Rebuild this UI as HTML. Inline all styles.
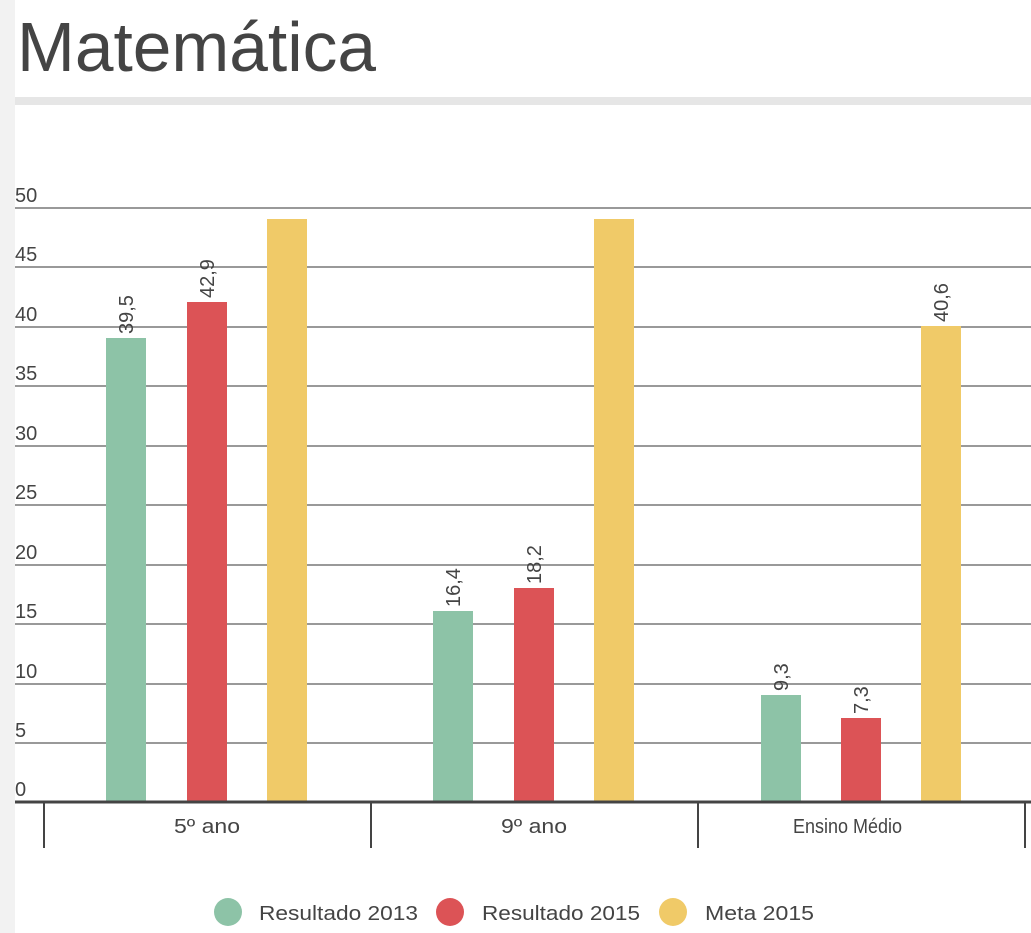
<!DOCTYPE html>
<html><head><meta charset="utf-8"><style>
html,body{margin:0;padding:0;width:1031px;height:933px;overflow:hidden;background:#fff}
svg{display:block}
text{font-family:"Liberation Sans",sans-serif;fill:#444}
</style></head><body>
<svg width="1031" height="933" viewBox="0 0 1031 933">
<rect x="0" y="0" width="15" height="933" fill="#f2f2f2"/>
<text x="17" y="71" font-size="70" textLength="359" lengthAdjust="spacingAndGlyphs">Matemática</text>
<rect x="15" y="97" width="1016" height="8" fill="#e6e6e6"/>
<g stroke="#999" stroke-width="2">
<line x1="15" x2="1031" y1="208" y2="208"/>
<line x1="15" x2="1031" y1="267" y2="267"/>
<line x1="15" x2="1031" y1="327" y2="327"/>
<line x1="15" x2="1031" y1="386" y2="386"/>
<line x1="15" x2="1031" y1="446" y2="446"/>
<line x1="15" x2="1031" y1="505" y2="505"/>
<line x1="15" x2="1031" y1="565" y2="565"/>
<line x1="15" x2="1031" y1="624" y2="624"/>
<line x1="15" x2="1031" y1="684" y2="684"/>
<line x1="15" x2="1031" y1="743" y2="743"/>
</g>
<g font-size="20">
<text x="15" y="202">50</text><text x="15" y="261">45</text><text x="15" y="321">40</text>
<text x="15" y="380">35</text><text x="15" y="440">30</text><text x="15" y="499">25</text>
<text x="15" y="559">20</text><text x="15" y="618">15</text><text x="15" y="678">10</text>
<text x="15" y="737">5</text><text x="15" y="796">0</text>
</g>
<g>
<rect x="106" y="338" width="40" height="464" fill="#8dc3a7"/>
<rect x="187" y="302" width="40" height="500" fill="#dc5356"/>
<rect x="267" y="219" width="40" height="583" fill="#f0ca68"/>
<rect x="433" y="611" width="40" height="191" fill="#8dc3a7"/>
<rect x="514" y="588" width="40" height="214" fill="#dc5356"/>
<rect x="594" y="219" width="40" height="583" fill="#f0ca68"/>
<rect x="761" y="695" width="40" height="107" fill="#8dc3a7"/>
<rect x="841" y="718" width="40" height="84" fill="#dc5356"/>
<rect x="921" y="326" width="40" height="476" fill="#f0ca68"/>
</g>
<g font-size="20">
<text transform="translate(133,334) rotate(-90)">39,5</text>
<text transform="translate(214,298) rotate(-90)">42,9</text>
<text transform="translate(460,607) rotate(-90)">16,4</text>
<text transform="translate(541,584) rotate(-90)">18,2</text>
<text transform="translate(788,691) rotate(-90)">9,3</text>
<text transform="translate(868,714) rotate(-90)">7,3</text>
<text transform="translate(948,322) rotate(-90)">40,6</text>
</g>
<line x1="15" x2="1031" y1="802" y2="802" stroke="#444" stroke-width="3"/>
<g stroke="#444" stroke-width="2">
<line x1="44" x2="44" y1="802" y2="848"/>
<line x1="371" x2="371" y1="802" y2="848"/>
<line x1="698" x2="698" y1="802" y2="848"/>
<line x1="1025" x2="1025" y1="802" y2="848"/>
</g>
<g font-size="20">
<text x="174" y="833" textLength="66" lengthAdjust="spacingAndGlyphs">5º ano</text>
<text x="501" y="833" textLength="66" lengthAdjust="spacingAndGlyphs">9º ano</text>
<text x="793" y="833" textLength="109" lengthAdjust="spacingAndGlyphs">Ensino Médio</text>
</g>
<circle cx="228" cy="912" r="14" fill="#8dc3a7"/>
<circle cx="450" cy="912" r="14" fill="#dc5356"/>
<circle cx="673" cy="912" r="14" fill="#f0ca68"/>
<g font-size="20">
<text x="259" y="920" textLength="159" lengthAdjust="spacingAndGlyphs">Resultado 2013</text>
<text x="482" y="920" textLength="158" lengthAdjust="spacingAndGlyphs">Resultado 2015</text>
<text x="705" y="920" textLength="109" lengthAdjust="spacingAndGlyphs">Meta 2015</text>
</g>
</svg>
</body></html>
